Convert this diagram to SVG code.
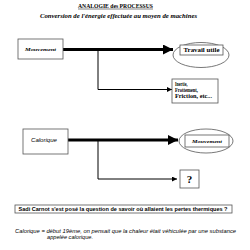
<svg xmlns="http://www.w3.org/2000/svg" width="250" height="250" viewBox="0 0 250 250">
<style>
.box{fill:#fff;stroke:#555;stroke-width:0.8}
.ell{fill:#fff;stroke:#555;stroke-width:0.8}
.thick{stroke:#000;stroke-width:3.2;fill:none}
.thin{stroke:#000;stroke-width:1;fill:none}
.serifb{font-family:"Liberation Serif",serif;font-weight:bold;fill:#000}
.serifbi{font-family:"Liberation Serif",serif;font-weight:bold;font-style:italic;fill:#000}
.sansb{font-family:"Liberation Sans",sans-serif;font-weight:bold;fill:#000}
.sansi{font-family:"Liberation Sans",sans-serif;font-style:italic;fill:#000}
</style>
<defs>
<marker id="big" markerUnits="userSpaceOnUse" markerWidth="11" markerHeight="11" refX="10" refY="5" orient="auto">
<path d="M0,0 L10,5 L0,10 Z" fill="#000"/>
</marker>
<marker id="small" markerUnits="userSpaceOnUse" markerWidth="6" markerHeight="6" refX="5" refY="2.5" orient="auto">
<path d="M0,0 L5,2.5 L0,5 Z" fill="#000"/>
</marker>
</defs>
<rect width="250" height="250" fill="#fff"/>
<g id="title">
<text class="serifb" x="115.5" y="7.5" font-size="6" text-anchor="middle" textLength="75" lengthAdjust="spacingAndGlyphs">ANALOGIE des PROCESSUS</text>
<line x1="78" y1="9" x2="153" y2="9" stroke="#000" stroke-width="0.5"/>
<text class="serifbi" x="118.5" y="17.5" font-size="6.5" text-anchor="middle" textLength="157" lengthAdjust="spacingAndGlyphs">Conversion de l'énergie effectuée au moyen de machines</text>
</g>
<g id="connectors">
<line class="thick" x1="63" y1="49.5" x2="173" y2="49.5" marker-end="url(#big)"/>
<polyline class="thin" points="98,49.5 98,89.5 172,89.5" marker-end="url(#small)"/>
<line class="thick" x1="68" y1="140" x2="178" y2="140" marker-end="url(#big)"/>
<polyline class="thin" points="98,140 98,179 177,179" marker-end="url(#small)"/>
</g>
<g id="n-mouvement1">
<rect class="box" x="18" y="39" width="45" height="20"/>
<text class="serifbi" x="40.5" y="50.8" font-size="5" text-anchor="middle" textLength="31" lengthAdjust="spacingAndGlyphs">Mouvement</text>
</g>
<g id="n-travail">
<ellipse class="ell" cx="201" cy="55" rx="28" ry="12.5"/>
<rect class="box" x="180" y="45" width="43" height="10"/>
<text class="serifb" x="201.5" y="52.3" font-size="6.5" text-anchor="middle" textLength="36" lengthAdjust="spacingAndGlyphs">Travail utile</text>
</g>
<g id="n-inertie">
<rect class="box" x="172" y="79" width="46" height="24"/>
<text class="serifb" x="175" y="86.2" font-size="5.8" textLength="12.5" lengthAdjust="spacingAndGlyphs">Inertie,</text>
<text class="serifb" x="175" y="92" font-size="5.8" textLength="23" lengthAdjust="spacingAndGlyphs">Frottement,</text>
<text class="serifb" x="175" y="97.8" font-size="5.8" textLength="37" lengthAdjust="spacingAndGlyphs">Friction, etc...</text>
</g>
<g id="n-calorique">
<rect class="box" x="23" y="129" width="45" height="25"/>
<text class="sansi" x="44" y="142" font-size="5" text-anchor="middle" textLength="26" lengthAdjust="spacingAndGlyphs">Calorique</text>
</g>
<g id="n-mouvement2">
<ellipse class="ell" cx="206" cy="141" rx="27" ry="12"/>
<rect class="box" x="185" y="135" width="44" height="12"/>
<text class="serifbi" x="207" y="142.8" font-size="5" text-anchor="middle" textLength="30" lengthAdjust="spacingAndGlyphs">Mouvement</text>
</g>
<g id="n-question">
<rect class="box" x="180" y="170" width="19" height="18"/>
<text class="serifb" x="189.5" y="183" font-size="11" text-anchor="middle">?</text>
</g>
<g id="n-sadi">
<rect class="box" x="15" y="205" width="217" height="8"/>
<text class="sansb" x="123" y="211" font-size="5" text-anchor="middle" textLength="209" lengthAdjust="spacingAndGlyphs">Sadi Carnot s'est posé la question de savoir où allaient les pertes thermiques ?</text>
</g>
<g id="note">
<text class="sansi" x="15" y="232.8" font-size="5" textLength="221" lengthAdjust="spacingAndGlyphs">Calorique = début 19ème, on pensait que la chaleur était véhiculée par une substance</text>
<text class="sansi" x="47" y="238.5" font-size="5" textLength="46" lengthAdjust="spacingAndGlyphs">appelée calorique.</text>
</g>
</svg>
